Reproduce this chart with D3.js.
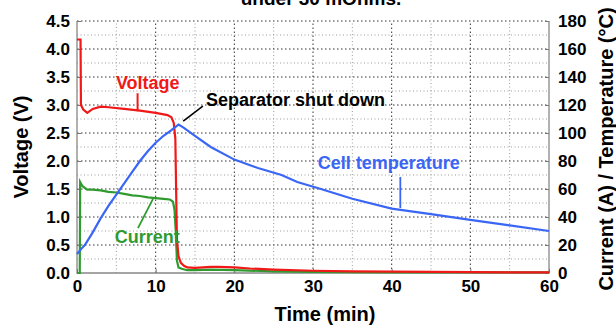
<!DOCTYPE html>
<html>
<head>
<meta charset="utf-8">
<script src="https://cdn.jsdelivr.net/npm/d3@7"></script>
<style>
  body { margin: 0; background: #fff; }
  text { font-family: "Liberation Sans", Arial, sans-serif; font-weight: bold; }
</style>
</head>
<body>
<svg id="chart" width="616" height="326"></svg>
<script>
// time in minutes
const timeV = [0, 0.45, 0.5, 0.8, 1.3, 2, 3, 4, 6, 8, 10, 11.5, 12, 12.3, 12.5, 12.6, 12.7, 12.9, 13.2, 13.6, 14, 15, 16, 17, 18, 20, 22, 25, 30, 35, 40, 50, 55, 60];
const voltage = [4.17, 4.17, 3.0, 2.92, 2.86, 2.93, 2.97, 2.96, 2.93, 2.9, 2.86, 2.82, 2.78, 2.68, 2.4, 1.5, 0.6, 0.3, 0.18, 0.13, 0.1, 0.09, 0.1, 0.11, 0.11, 0.1, 0.08, 0.06, 0.04, 0.03, 0.025, 0.015, 0.01, 0.01];

const timeI = [0, 0.35, 0.4, 0.7, 1.3, 2, 3, 4, 5, 6, 7, 8, 9, 10, 11, 11.8, 12.2, 12.4, 12.55, 12.7, 12.9, 13.3, 14, 15, 17, 20, 25, 30, 40, 60];
const current = [0, 0, 65, 62, 59.5, 59.5, 59, 58, 57.5, 56.5, 55.5, 55, 54, 53.5, 53, 52.5, 51, 45, 30, 9, 4, 3, 2, 2, 2.4, 2, 1.2, 0.8, 0.5, 0.4];

const timeT = [0, 0.6, 1, 2, 3, 4, 5, 6, 7, 8, 9, 10, 11, 12, 12.9, 13.5, 15, 17, 20, 23, 26, 28, 31, 35, 40, 45, 50, 55, 60];
const temperature = [13.6, 17.6, 20, 29, 39, 48, 56, 64, 72, 80, 87, 93, 98, 102, 106, 104, 98, 90, 81, 75, 70, 65, 60, 53, 46, 42, 38, 34, 30];

const xTicks = [0, 10, 20, 30, 40, 50, 60];
const yLeftTicks = [0, 0.5, 1.0, 1.5, 2.0, 2.5, 3.0, 3.5, 4.0, 4.5];
const yRightTicks = [0, 20, 40, 60, 80, 100, 120, 140, 160, 180];

const svg = d3.select("#chart");
const x = d3.scaleLinear().domain([0, 60]).range([77, 549]);
const yL = d3.scaleLinear().domain([0, 4.5]).range([273, 21]);
const yR = d3.scaleLinear().domain([0, 180]).range([273, 21]);

// title (cut off at top)
svg.append("text").attr("x", 321).attr("y", 5).attr("text-anchor", "middle")
  .attr("font-size", 19).text("under 30 mOhms.");

// grid
const grid = svg.append("g");
const minorX = d3.range(5, 60, 10);
const minorY = d3.range(0.25, 4.5, 0.5);
grid.selectAll(".mx").data(minorX).join("line")
  .attr("x1", d => x(d)).attr("x2", d => x(d)).attr("y1", yL(0)).attr("y2", yL(4.5))
  .attr("stroke", "#9a9a9a").attr("stroke-dasharray", "1,2.5");
grid.selectAll(".my").data(minorY).join("line")
  .attr("x1", x(0)).attr("x2", x(60)).attr("y1", d => yL(d)).attr("y2", d => yL(d))
  .attr("stroke", "#9a9a9a").attr("stroke-dasharray", "1,2.5");
grid.selectAll(".Mx").data(xTicks.slice(1, -1)).join("line")
  .attr("x1", d => x(d)).attr("x2", d => x(d)).attr("y1", yL(0)).attr("y2", yL(4.5))
  .attr("stroke", "#333").attr("stroke-dasharray", "1.5,2.5");
grid.selectAll(".My").data(yLeftTicks.slice(1)).join("line")
  .attr("x1", x(0)).attr("x2", x(60)).attr("y1", d => yL(d)).attr("y2", d => yL(d))
  .attr("stroke", "#333").attr("stroke-dasharray", "1.5,2.5");

// frame
svg.append("path")
  .attr("d", `M${x(0)},${yL(4.5)}V${yL(0)}H${x(60)}V${yL(4.5)}`)
  .attr("fill", "none").attr("stroke", "#888").attr("stroke-width", 1.3);

// axes
const fmt1 = d3.format(".1f");
const axL = svg.append("g").attr("transform", `translate(${x(0)},0)`)
  .call(d3.axisLeft(yL).tickValues(yLeftTicks).tickFormat(fmt1).tickSizeInner(-4).tickSizeOuter(0).tickPadding(7));
const axR = svg.append("g").attr("transform", `translate(${x(60)},0)`)
  .call(d3.axisRight(yR).tickValues(yRightTicks).tickSizeInner(-4).tickSizeOuter(0).tickPadding(9));
const axB = svg.append("g").attr("transform", `translate(0,${yL(0)})`)
  .call(d3.axisBottom(x).tickValues(xTicks).tickSizeInner(-4).tickSizeOuter(0).tickPadding(7));
[axL, axR, axB].forEach(a => {
  a.select(".domain").remove();
  a.selectAll(".tick line").attr("stroke", "#777");
  a.selectAll(".tick text").attr("font-size", 17).attr("fill", "#000")
    .style("font-family", "'Liberation Sans', Arial, sans-serif").style("font-weight", "bold");
});

// axis titles
svg.append("text").attr("transform", `translate(21,147) rotate(-90)`)
  .attr("text-anchor", "middle").attr("dominant-baseline", "central")
  .attr("font-size", 20).text("Voltage (V)");
svg.append("text").attr("transform", `translate(606,149) rotate(-90)`)
  .attr("text-anchor", "middle").attr("dominant-baseline", "central")
  .attr("font-size", 20).text("Current (A) / Temperature (°C)");
svg.append("text").attr("x", 325).attr("y", 321).attr("text-anchor", "middle")
  .attr("font-size", 20).text("Time (min)");

// series
const red = "#f01818", green = "#2f9a2f", blue = "#3a66f5";
const lineV = d3.line().x((d, i) => x(timeV[i])).y(d => yL(d));
const lineI = d3.line().x((d, i) => x(timeI[i])).y(d => yR(d));
const lineT = d3.line().x((d, i) => x(timeT[i])).y(d => yR(d));

svg.append("path").datum(current).attr("d", lineI)
  .attr("fill", "none").attr("stroke", green).attr("stroke-width", 2.2);
svg.append("path").datum(voltage).attr("d", lineV)
  .attr("fill", "none").attr("stroke", red).attr("stroke-width", 2.2);
svg.append("path").datum(temperature).attr("d", lineT)
  .attr("fill", "none").attr("stroke", blue).attr("stroke-width", 2.2);

// annotations
svg.append("text").attr("x", x(9.0)).attr("y", yL(3.39)).attr("text-anchor", "middle")
  .attr("dominant-baseline", "central").attr("font-size", 18).attr("fill", red).text("Voltage");
svg.append("line").attr("x1", x(7.7)).attr("x2", x(7.7)).attr("y1", yL(3.21)).attr("y2", yL(2.89))
  .attr("stroke", red).attr("stroke-width", 2);

svg.append("text").attr("x", x(16.4)).attr("y", yL(3.09))
  .attr("dominant-baseline", "central").attr("font-size", 18).attr("fill", "#000").text("Separator shut down");
svg.append("line").attr("x1", x(16.0)).attr("x2", x(13.5)).attr("y1", yL(2.98)).attr("y2", yL(2.71))
  .attr("stroke", "#000").attr("stroke-width", 1.6);

svg.append("text").attr("x", x(30.6)).attr("y", yR(78.6))
  .attr("dominant-baseline", "central").attr("font-size", 18).attr("fill", blue).text("Cell temperature");
svg.append("line").attr("x1", x(41.1)).attr("x2", x(41.1)).attr("y1", yR(68.6)).attr("y2", yR(46.4))
  .attr("stroke", blue).attr("stroke-width", 1.8);

svg.append("text").attr("x", x(4.8)).attr("y", yR(25.7))
  .attr("dominant-baseline", "central").attr("font-size", 18).attr("fill", green).text("Current");
svg.append("line").attr("x1", x(7.75)).attr("x2", x(9.66)).attr("y1", yR(32.1)).attr("y2", yR(52.9))
  .attr("stroke", green).attr("stroke-width", 1.8);
</script>
</body>
</html>
